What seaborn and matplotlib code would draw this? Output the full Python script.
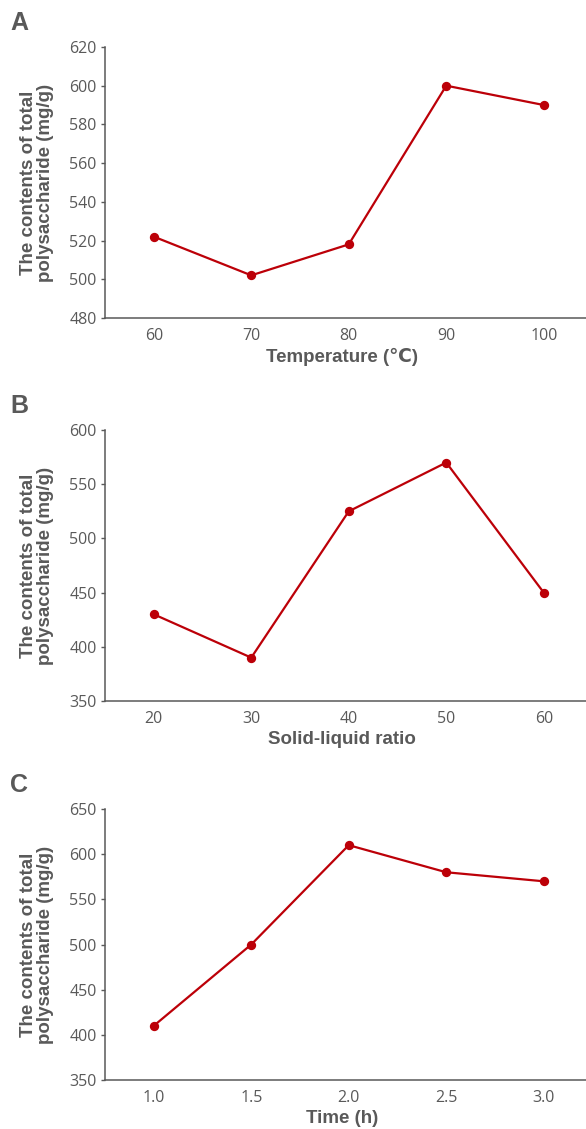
import matplotlib
matplotlib.use("Agg")
import matplotlib.pyplot as plt
import seaborn as sns

# panel A - temperature
temp_labels = ["60", "70", "80", "90", "100"]
temp_values = [522, 502, 518, 600, 590]

# panel B - solid-liquid ratio
ratio_labels = ["20", "30", "40", "50", "60"]
ratio_values = [430, 390, 525, 570, 450]

# panel C - time
time_labels = ["1.0", "1.5", "2.0", "2.5", "3.0"]
time_values = [410, 500, 610, 580, 570]

sns.set_theme(style="white")
fonts = ["Liberation Sans Narrow", "Liberation Sans", "DejaVu Sans"]
plt.rcParams["font.family"] = fonts

GRAY = "#595959"
RED = "#BC0008"

panels = [
    ("A", temp_labels, temp_values, (480, 620), 20, "Temperature (\u2103)", 0.9584),
    ("B", ratio_labels, ratio_values, (350, 600), 50, "Solid-liquid ratio", 0.6191),
    ("C", time_labels, time_values, (350, 650), 50, "Time (h)", 0.2834),
]

fig = plt.figure(figsize=(5.86, 11.29), dpi=100)
left, width, height = 105 / 586, 487.5 / 586, 0.2400

for letter, labels, values, ylim, step, xlabel, top in panels:
    ax = fig.add_axes([left, top - height, width, height])
    sns.pointplot(x=labels, y=values, color=RED, ax=ax,
                  markers="o", markersize=5.5, linewidth=1.6)
    ax.set_xlim(-0.5, len(labels) - 0.5)
    ax.set_ylim(*ylim)
    ax.set_yticks(range(ylim[0], ylim[1] + 1, step))

    for side in ["top", "right"]:
        ax.spines[side].set_visible(False)
    for side in ["left", "bottom"]:
        ax.spines[side].set_color(GRAY)
        ax.spines[side].set_linewidth(1.1)

    ax.set_xticks([i + 0.5 for i in range(len(labels) - 1)], minor=True)
    ax.tick_params(axis="x", which="major", length=0, pad=7,
                   labelsize=11.5, labelcolor=GRAY)
    ax.tick_params(axis="x", which="minor", direction="in", length=4,
                   width=1, color=GRAY)
    ax.tick_params(axis="y", which="major", direction="out", length=3,
                   width=1, color=GRAY, labelsize=11.5, labelcolor=GRAY, pad=3,
                   left=True)
    for t in ax.get_xticklabels() + ax.get_yticklabels():
        t.set_family(["Open Sans", "DejaVu Sans"])

    ax.set_ylabel("The contents of total\npolysaccharide (mg/g)",
                  fontsize=13.5, fontweight="bold", color=GRAY, linespacing=0.95)
    ax.yaxis.set_label_coords(-0.105, 0.5)
    ax.set_xlabel(xlabel, fontsize=13.5, fontweight="bold", color=GRAY,
                  family=fonts)
    ax.xaxis.set_label_coords(0.487, -0.11)

    fig.text(10 / 586, top + 24 / 1129, letter, fontsize=18, fontweight="bold",
             color=GRAY, ha="left", va="center",
             family=["Liberation Sans", "DejaVu Sans"])

fig.savefig("out.png", dpi=100)
